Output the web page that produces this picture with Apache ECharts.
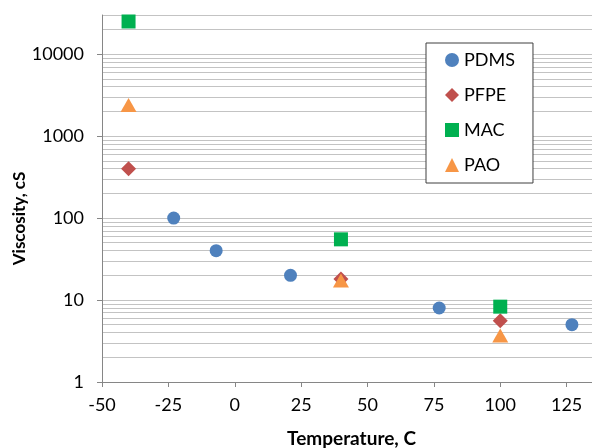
<!DOCTYPE html>
<html>
<head>
<meta charset="utf-8">
<script src="https://cdn.jsdelivr.net/npm/echarts@6/dist/echarts.min.js"></script>
<style>
  html, body { margin: 0; padding: 0; background: #fff; }
  #main { width: 592px; height: 448px; }
</style>
</head>
<body>
<div id="main"></div>
<script>
// Viscosity (cS) against temperature (C), log scale on y
var pdmsTemp = [-23, -7, 21, 77, 127];
var pdmsVisc = [100, 40, 20, 8, 5];
var pfpeTemp = [-40, 40, 100];
var pfpeVisc = [400, 18, 5.6];
var macTemp = [-40, 40, 100];
var macVisc = [25000, 55, 8.3];
var paoTemp = [-40, 40, 100];
var paoVisc = [2400, 17.3, 3.7];

// minor log gridlines (2..9 in every decade)
var minorGrid = [2, 3, 4, 5, 6, 7, 8, 9,
    20, 30, 40, 50, 60, 70, 80, 90,
    200, 300, 400, 500, 600, 700, 800, 900,
    2000, 3000, 4000, 5000, 6000, 7000, 8000, 9000,
    20000, 30000];

function pairs(xs, ys) {
    return xs.map(function (x, i) { return [x, ys[i]]; });
}

var font = 'Lato, "Open Sans", sans-serif';
var gridColor = '#c3c3c3';

var myChart = echarts.init(document.getElementById('main'));

var option = {
    animation: false,
    backgroundColor: '#fff',
    textStyle: { fontFamily: font },
    // plot runs past the right edge (x max 150 is cropped off)
    grid: { left: 102, top: 15, bottom: 66, right: -41, containLabel: false, outerBoundsMode: 'none' },
    legend: {
        orient: 'vertical',
        left: 426,
        top: 43,
        padding: [7, 18, 8, 19],
        itemWidth: 14,
        itemHeight: 14,
        itemGap: 15,
        backgroundColor: '#fff',
        borderColor: '#3f3f3f',
        borderWidth: 1,
        borderRadius: 0,
        textStyle: { fontFamily: font, fontSize: 18, color: '#000', lineHeight: 20 },
        data: [
            { name: 'PDMS', icon: 'circle' },
            { name: 'PFPE', icon: 'diamond' },
            { name: 'MAC', icon: 'rect' },
            { name: 'PAO', icon: 'triangle' }
        ]
    },
    xAxis: {
        type: 'value',
        min: -50,
        max: 150,
        interval: 25,
        name: 'Temperature, C',
        nameLocation: 'middle',
        nameGap: 47,
        nameTextStyle: { fontFamily: font, fontSize: 19, fontWeight: 'bold', color: '#000', padding: [0, 32, 0, 0] },
        axisLine: { onZero: false, lineStyle: { color: '#868686' } },
        axisTick: { show: true, length: 5, lineStyle: { color: '#868686' } },
        axisLabel: { fontFamily: font, fontSize: 18, color: '#000', margin: 14 },
        splitLine: { show: false }
    },
    yAxis: {
        type: 'log',
        logBase: 10,
        min: 1,
        max: 30000,
        name: 'Viscosity, cS',
        nameLocation: 'middle',
        nameGap: 74,
        nameMoveOverlap: false,
        nameTextStyle: { fontFamily: font, fontSize: 17, fontWeight: 'bold', color: '#000', padding: [0, 40, 0, 0] },
        axisLine: { show: true, onZero: false, lineStyle: { color: '#868686' } },
        axisTick: { show: true, length: 5, lineStyle: { color: '#868686' } },
        axisLabel: {
            fontFamily: font, fontSize: 18, color: '#000', margin: 18, showMaxLabel: false,
            formatter: function (v) { return String(Math.round(v)); }
        },
        splitLine: { show: true, lineStyle: { color: gridColor, width: 1 } }
    },
    series: [
        {
            name: 'grid',
            type: 'line',
            data: [],
            silent: true,
            z: 0,
            markLine: {
                silent: true,
                z: 0,
                symbol: 'none',
                label: { show: false },
                lineStyle: { color: gridColor, width: 1, type: 'solid' },
                data: minorGrid.map(function (v) { return { yAxis: v }; })
            }
        },
        {
            name: 'PDMS',
            type: 'scatter',
            symbol: 'circle',
            symbolSize: 13,
            itemStyle: { color: '#4f81bd', opacity: 1 },
            data: pairs(pdmsTemp, pdmsVisc)
        },
        {
            name: 'PFPE',
            type: 'scatter',
            symbol: 'diamond',
            symbolSize: 15,
            itemStyle: { color: '#c0504d', opacity: 1 },
            data: pairs(pfpeTemp, pfpeVisc)
        },
        {
            name: 'MAC',
            type: 'scatter',
            symbol: 'rect',
            symbolSize: 14,
            itemStyle: { color: '#00b050', opacity: 1 },
            data: pairs(macTemp, macVisc)
        },
        {
            name: 'PAO',
            type: 'scatter',
            symbol: 'triangle',
            symbolSize: [16, 14],
            itemStyle: { color: '#f79646', opacity: 1 },
            data: pairs(paoTemp, paoVisc)
        }
    ]
};

myChart.setOption(option);
</script>
</body>
</html>
